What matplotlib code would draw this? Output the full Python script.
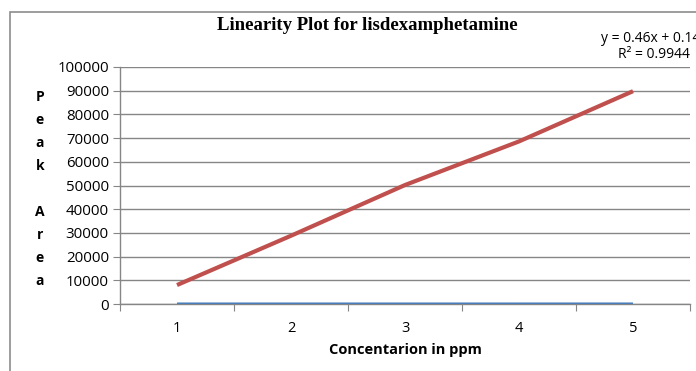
import matplotlib
matplotlib.use('Agg')
import matplotlib.pyplot as plt
from matplotlib.patches import Rectangle

conc = [1, 2, 3, 4, 5]
peak_area = [8000, 28800, 50200, 68600, 89800]
peak_area_small = [0.62, 1.02, 1.55, 2.0, 2.42]
yticks = [0, 10000, 20000, 30000, 40000, 50000, 60000, 70000, 80000, 90000, 100000]
ylabel_letters = ['P', 'e', 'a', 'k', '', 'A', 'r', 'e', 'a']

grid_col = '#868686'
fig = plt.figure(figsize=(6.96, 3.71), dpi=100)
ax = fig.add_axes([120/696, 1-304/371, 570/696, 237/371])

# category style x axis: categories centred between ticks
x = [c - 0.5 for c in conc]
ax.plot(x, peak_area_small, color='#4a7ebb', lw=2.2, solid_capstyle='butt', zorder=3)
ax.plot(x, peak_area, color='#c0504d', lw=3, solid_capstyle='butt', zorder=4)

ax.set_xlim(0, 5)
ax.set_ylim(0, 100000)
ax.set_yticks(yticks)
ax.set_yticklabels([str(v) for v in yticks], fontsize=10.8, family='Open Sans')
ax.set_xticks([0, 1, 2, 3, 4, 5])
ax.set_xticklabels([])
ax.set_xticks(x, minor=True)
ax.set_xticklabels([str(c) for c in conc], minor=True, fontsize=10.5, family='Open Sans')
ax.tick_params(axis='x', which='minor', length=0, pad=12)
ax.tick_params(axis='x', which='major', length=5, color=grid_col, direction='out')
ax.tick_params(axis='y', length=5, color=grid_col, direction='out', pad=3)
ax.grid(axis='y', color=grid_col, lw=1)
ax.set_axisbelow(True)
for s in ['top', 'right']:
    ax.spines[s].set_visible(False)
for s in ['left', 'bottom']:
    ax.spines[s].set_color(grid_col)
    ax.spines[s].set_linewidth(1)

ax.set_xlabel('Concentarion in ppm', fontsize=10.5, fontweight='bold', family='Open Sans', labelpad=5)

for i, ch in enumerate(ylabel_letters):
    fig.text(40/696, 1-(97+23*i)/371, ch, fontsize=10, fontweight='bold', family='Open Sans',
             ha='center', va='center')

fig.text(367/696, 1-26/371, 'Linearity Plot for lisdexamphetamine', fontsize=13.5,
         fontweight='bold', family='Liberation Serif', ha='center', va='center')
# trendline label runs past the right edge in the original
fig.text(601/696, 1-38/371, 'y = 0.46x + 0.14', fontsize=10, family='Open Sans', ha='left', va='center')
fig.text(690/696, 1-55/371, 'R² = 0.9944', fontsize=10, family='Open Sans', ha='right', va='center')

fig.patches.append(Rectangle((10/696, -0.1), 1, 1 - 12/371 + 0.1, transform=fig.transFigure,
                             fill=False, edgecolor='#8c8c8c', lw=1.2))

plt.savefig('out.png', dpi=100)
